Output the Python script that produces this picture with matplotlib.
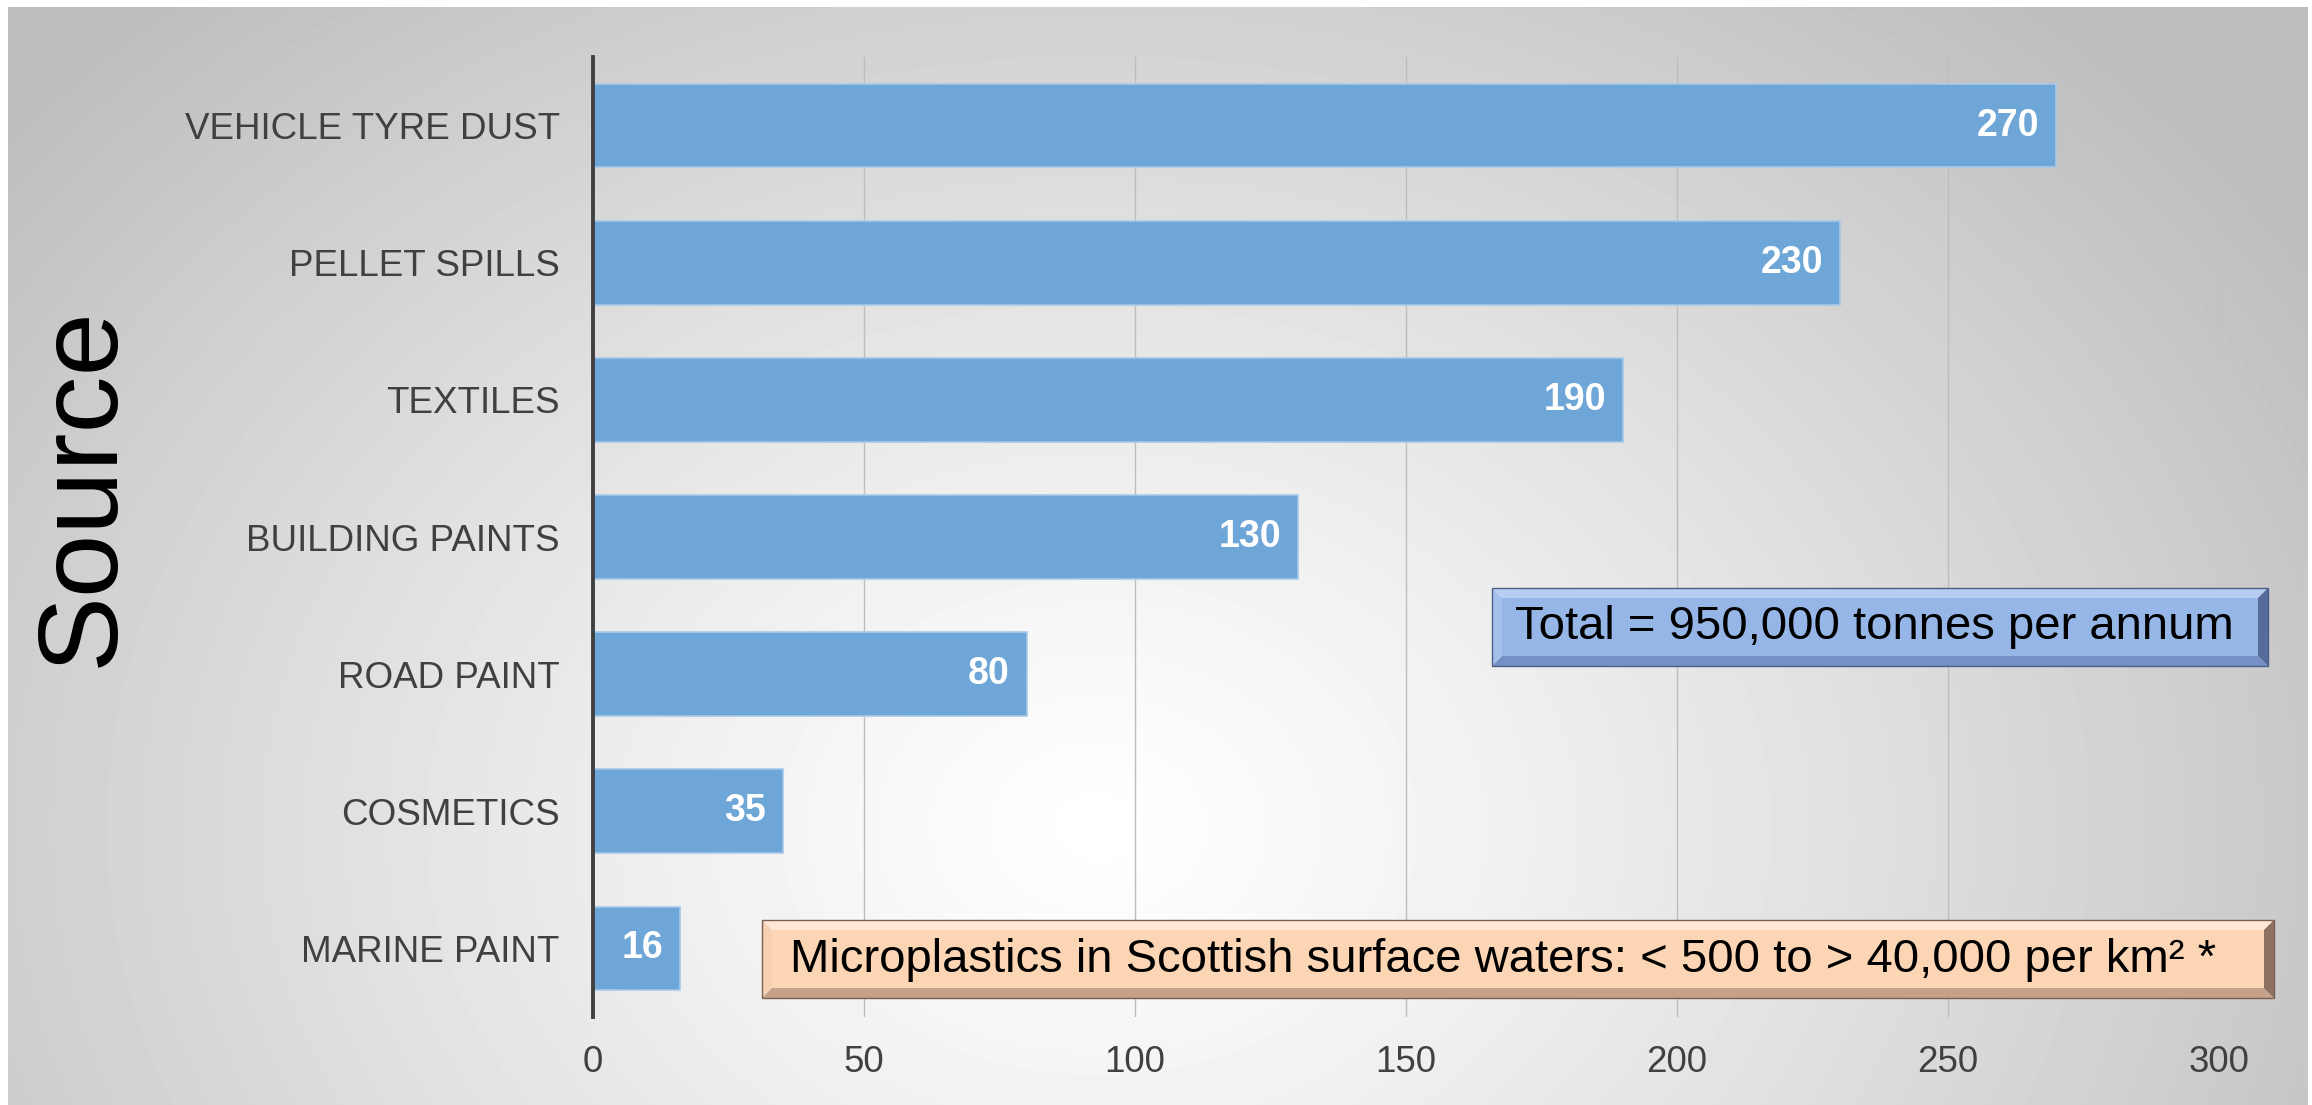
import matplotlib.pyplot as plt
import numpy as np
from matplotlib.patches import Polygon

sources = ['VEHICLE TYRE DUST', 'PELLET SPILLS', 'TEXTILES', 'BUILDING PAINTS',
           'ROAD PAINT', 'COSMETICS', 'MARINE PAINT']
amounts = [270, 230, 190, 130, 80, 35, 16]
x_ticks = [0, 50, 100, 150, 200, 250, 300]
total_note = 'Total = 950,000 tonnes per annum'
water_note = 'Microplastics in Scottish surface waters: < 500 to > 40,000 per km² *'

plt.rcParams['font.family'] = ['Liberation Sans', 'DejaVu Sans']

W, H = 2312, 1105
fig = plt.figure(figsize=(W / 100, H / 100), dpi=100, facecolor='white')

# soft radial grey background like the slide
bg = fig.add_axes([8 / W, 0, 2300 / W, 1098 / H], zorder=-1)
yy, xx = np.mgrid[0:1098, 0:2300]
r = np.sqrt(((xx - 1090) / 1350) ** 2 + ((yy - 820) / 1050) ** 2)
shade = np.clip(255 - 62 * r ** 1.2, 190, 255)
bg.imshow(shade, cmap='gray', vmin=0, vmax=255, aspect='auto', interpolation='bilinear')
bg.axis('off')

ax = fig.add_axes([593 / W, 88 / H, (2219 - 593) / W, (1017 - 57) / H])
ax.patch.set_alpha(0)
pos = np.arange(len(sources))
ax.barh(pos, amounts, height=0.61, color='#6FA6D8', edgecolor='#A6C8EA', linewidth=1.2, zorder=2)
ax.set_ylim(len(sources) - 0.5, -0.5)
ax.set_xlim(0, 300)
ax.set_yticks(pos, sources)
ax.set_xticks(x_ticks)
ax.tick_params(axis='y', length=0, pad=24, labelsize=26.5, labelcolor='#404040')
ax.tick_params(axis='x', length=0, pad=20, labelsize=26.5, labelcolor='#404040')
ax.grid(axis='x', color='#bdbdbd', lw=1)
ax.set_axisbelow(True)
for s in ['top', 'right', 'bottom']:
    ax.spines[s].set_visible(False)
ax.spines['left'].set_color('#404040')
ax.spines['left'].set_linewidth(2.8)
ax.spines['left'].set_zorder(3)

for i, v in enumerate(amounts):
    ax.annotate(str(v), (v, i), xytext=(-12, 0), textcoords='offset points',
                ha='right', va='center', color='white', fontsize=27, fontweight='bold')

fig.text(84 / W, 1 - 487 / H, 'Source', rotation=90, fontsize=82, ha='center', va='center')


def bevel_box(x0, y0, x1, y1, b, face, top, left, bottom, right, edge):
    def p(x, y):
        return (x / W, 1 - y / H)
    parts = [
        ([(x0, y0), (x1, y0), (x1 - b, y0 + b), (x0 + b, y0 + b)], top),
        ([(x0, y0), (x0 + b, y0 + b), (x0 + b, y1 - b), (x0, y1)], left),
        ([(x0, y1), (x0 + b, y1 - b), (x1 - b, y1 - b), (x1, y1)], bottom),
        ([(x1, y0), (x1, y1), (x1 - b, y1 - b), (x1 - b, y0 + b)], right),
        ([(x0 + b, y0 + b), (x1 - b, y0 + b), (x1 - b, y1 - b), (x0 + b, y1 - b)], face),
    ]
    for pts, c in parts:
        fig.add_artist(Polygon([p(*q) for q in pts], closed=True, facecolor=c,
                               edgecolor='none', transform=fig.transFigure, zorder=4))
    fig.add_artist(Polygon([p(x0, y0), p(x1, y0), p(x1, y1), p(x0, y1)], closed=True,
                           facecolor='none', edgecolor=edge, lw=1,
                           transform=fig.transFigure, zorder=4))


bevel_box(1492, 588, 2268, 666, 10, '#95B6E6', '#B7CDF2', '#A6C0EC', '#7590C4', '#566C9A', '#4A5E88')
fig.text(1874 / W, 1 - 627 / H, total_note, fontsize=34, ha='center', va='center', zorder=5)

bevel_box(762, 920, 2274, 998, 10, '#FCD5B5', '#FEE8D6', '#F6D0B2', '#C4A188', '#8E7260', '#7A6050')
fig.text(1503 / W, 1 - 960 / H, water_note, fontsize=34, ha='center', va='center', zorder=5)

fig.savefig('out.png', dpi=100)
